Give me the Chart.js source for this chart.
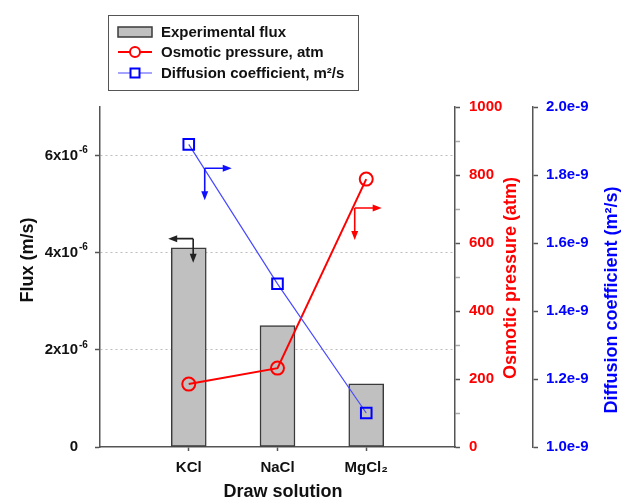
<!DOCTYPE html>
<html>
<head>
<meta charset="utf-8">
<script src="https://cdn.jsdelivr.net/npm/chart.js@4.4.1/dist/chart.umd.min.js"></script>
<style>
    html, body { margin: 0; padding: 0; background: #fff; }
    #wrap { position: relative; width: 624px; height: 501px; }
</style>
</head>
<body>
<div id="wrap"><canvas id="fluxChart"></canvas></div>
<script>
// values
const categories = ['KCl', 'NaCl', 'MgCl₂'];
const fluxValues = [4.1e-6, 2.5e-6, 1.3e-6];            // m/s
const osmoticPressure = [185, 232, 788];                // atm
const diffusionCoeff = [1.89e-9, 1.48e-9, 1.10e-9];     // m²/s

const fluxTicks = [0, 2e-6, 4e-6, 6e-6];
const fluxTickLabels = ['0', '2x10', '4x10', '6x10'];
const fluxTickExponents = ['', '-6', '-6', '-6'];
const pressureTicks = [0, 200, 400, 600, 800, 1000];
const pressureMinorTicks = [100, 300, 500, 700, 900];
const diffusionTicks = [1.0e-9, 1.2e-9, 1.4e-9, 1.6e-9, 1.8e-9, 2.0e-9];
const diffusionTickLabels = ['1.0e-9', '1.2e-9', '1.4e-9', '1.6e-9', '1.8e-9', '2.0e-9'];

// L-shaped "read this axis" arrows: anchor in data units of the given axis
const axisArrows = [
    { axis: 'y', x: 0.05, y: 4.29e-6, dir: -1, len: 25, down: 24, color: '#222' },
    { axis: 'yD', x: 0.18, y: 1.82e-9, dir: 1, len: 27, down: 32, color: '#1010ff' },
    { axis: 'yP', x: 1.87, y: 703, dir: 1, len: 27, down: 32, color: '#ff0000' },
];

const FONT = "'Liberation Sans', Arial, sans-serif";
const AXIS_COLOR = '#555';
const RED = '#ff0000';
const BLUE = '#0000ff';

Chart.defaults.font.family = FONT;

function arrowHead(ctx, x, y, dx, dy) {
    // dx,dy unit direction of the arrow
    const L = 9, W = 3.5;
    ctx.beginPath();
    ctx.moveTo(x, y);
    ctx.lineTo(x - dx * L - dy * W, y - dy * L + dx * W);
    ctx.lineTo(x - dx * L + dy * W, y - dy * L - dx * W);
    ctx.closePath();
    ctx.fill();
}

function drawAxisArrows(chart) {
    const ctx = chart.ctx;
    const xs = chart.scales.x;
    ctx.save();
    axisArrows.forEach((a) => {
        const px = xs.getPixelForValue(a.x);
        const py = chart.scales[a.axis].getPixelForValue(a.y);
        ctx.strokeStyle = a.color;
        ctx.fillStyle = a.color;
        ctx.lineWidth = 1.6;
        ctx.beginPath();
        ctx.moveTo(px, py);
        ctx.lineTo(px + a.dir * (a.len - 4), py);
        ctx.moveTo(px, py);
        ctx.lineTo(px, py + a.down - 4);
        ctx.stroke();
        arrowHead(ctx, px + a.dir * a.len, py, a.dir, 0);
        arrowHead(ctx, px, py + a.down, 0, 1);
    });
    ctx.restore();
}

// superscript exponent after the "Nx10" flux tick labels
function drawFluxExponents(chart) {
    const ctx = chart.ctx;
    const ys = chart.scales.y;
    ctx.save();
    ctx.font = `bold 10px ${FONT}`;
    ctx.fillStyle = '#111';
    ctx.textAlign = 'left';
    ctx.textBaseline = 'middle';
    fluxTicks.forEach((v, i) => {
        if (!fluxTickExponents[i]) return;
        ctx.fillText(fluxTickExponents[i], 79, ys.getPixelForValue(v) - 5);
    });
    ctx.restore();
}

function drawLegendBox(chart) {
    const ctx = chart.ctx;
    const box = { x: 108, y: 15, w: 250, h: 75 };
    const rows = [32, 52, 73];
    ctx.save();
    ctx.strokeStyle = AXIS_COLOR;
    ctx.lineWidth = 1;
    ctx.strokeRect(box.x + 0.5, box.y + 0.5, box.w, box.h);
    ctx.font = `bold 15px ${FONT}`;
    ctx.textBaseline = 'middle';
    chart.data.datasets.forEach((ds, i) => {
        const y = rows[i];
        const x0 = 118, x1 = 152, cx = 135;
        if (ds.type === 'line') {
            ctx.strokeStyle = ds.borderColor;
            ctx.lineWidth = ds.borderWidth;
            ctx.beginPath();
            ctx.moveTo(x0, y);
            ctx.lineTo(x1, y);
            ctx.stroke();
            ctx.strokeStyle = ds.pointBorderColor;
            ctx.lineWidth = 2;
            ctx.fillStyle = '#fff';
            if (ds.pointStyle === 'circle') {
                ctx.beginPath();
                ctx.arc(cx, y, 5, 0, Math.PI * 2);
                ctx.fill();
                ctx.stroke();
            } else {
                ctx.fillRect(cx - 4.5, y - 4.5, 9, 9);
                ctx.strokeRect(cx - 4.5, y - 4.5, 9, 9);
            }
        } else {
            ctx.fillStyle = ds.backgroundColor;
            ctx.fillRect(x0, y - 5, x1 - x0, 10);
            ctx.strokeStyle = ds.borderColor;
            ctx.lineWidth = 1.5;
            ctx.strokeRect(x0, y - 5, x1 - x0, 10);
        }
        ctx.fillStyle = '#111';
        ctx.fillText(ds.label, 161, y + 1);
    });
    ctx.restore();
}

function drawTitle(ctx, text, x, y, rot, color) {
    ctx.save();
    ctx.translate(x, y);
    ctx.rotate(rot);
    ctx.font = `bold 18px ${FONT}`;
    ctx.fillStyle = color;
    ctx.textAlign = 'center';
    ctx.textBaseline = 'middle';
    ctx.fillText(text, 0, 0);
    ctx.restore();
}

function drawAxisTitles(chart) {
    const ctx = chart.ctx;
    drawTitle(ctx, 'Flux (m/s)', 28, 260, -Math.PI / 2, '#111');
    drawTitle(ctx, 'Draw solution', 283, 492, 0, '#111');
    drawTitle(ctx, 'Osmotic pressure (atm)', 511, 278, -Math.PI / 2, RED);
    drawTitle(ctx, 'Diffusion coefficient (m²/s)', 612, 300, -Math.PI / 2, BLUE);
}

const overlayPlugin = {
    id: 'overlay',
    afterDatasetsDraw(chart) {
        drawAxisArrows(chart);
    },
    afterDraw(chart) {
        drawFluxExponents(chart);
        drawLegendBox(chart);
        drawAxisTitles(chart);
    },
};

const tickFont = { size: 15, weight: 'bold' };

new Chart(document.getElementById('fluxChart').getContext('2d'), {
    type: 'bar',
    data: {
        datasets: [
            {
                type: 'bar',
                label: 'Experimental flux',
                data: categories.map((c, i) => ({ x: i, y: fluxValues[i] })),
                yAxisID: 'y',
                backgroundColor: '#c0c0c0',
                borderColor: '#3a3a3a',
                borderWidth: 1.5,
                borderSkipped: false,
                barThickness: 35,
                order: 3,
            },
            {
                type: 'line',
                label: 'Osmotic pressure, atm',
                data: categories.map((c, i) => ({ x: i, y: osmoticPressure[i] })),
                yAxisID: 'yP',
                borderColor: RED,
                borderWidth: 2,
                pointStyle: 'circle',
                pointRadius: 6.5,
                pointBorderWidth: 2,
                pointBorderColor: RED,
                pointBackgroundColor: 'rgba(0,0,0,0)',
                tension: 0,
                order: 2,
            },
            {
                type: 'line',
                label: 'Diffusion coefficient, m²/s',
                data: categories.map((c, i) => ({ x: i, y: diffusionCoeff[i] })),
                yAxisID: 'yD',
                borderColor: '#4a4aff',
                borderWidth: 1.2,
                pointStyle: 'rect',
                pointRadius: 7.5,
                pointBorderWidth: 2,
                pointBorderColor: BLUE,
                pointBackgroundColor: 'rgba(0,0,0,0)',
                tension: 0,
                order: 1,
            },
        ],
    },
    options: {
        responsive: true,
        maintainAspectRatio: false,
        animation: false,
        layout: { padding: { top: 107, left: 0, right: 0, bottom: 0 } },
        plugins: {
            legend: { display: false },
            tooltip: { enabled: false },
        },
        scales: {
            x: {
                type: 'linear',
                min: -1,
                max: 3,
                offset: false,
                afterFit: (s) => { s.height = 54; },
                afterBuildTicks: (s) => { s.ticks = categories.map((c, i) => ({ value: i })); },
                ticks: {
                    autoSkip: false,
                    maxRotation: 0,
                    padding: 8,
                    color: '#111',
                    font: tickFont,
                    callback: (v) => categories[v],
                },
                grid: {
                    offset: false,
                    drawOnChartArea: false,
                    tickLength: 4,
                    tickColor: AXIS_COLOR,
                    tickWidth: 1.5,
                },
                border: { color: AXIS_COLOR, width: 1.5 },
            },
            y: {
                position: 'left',
                min: 0,
                max: 7e-6,
                afterFit: (s) => { s.width = 100; },
                afterBuildTicks: (s) => { s.ticks = fluxTicks.map((v) => ({ value: v })); },
                ticks: {
                    autoSkip: false,
                    padding: 17,
                    color: '#111',
                    font: tickFont,
                    callback: (v, i) => fluxTickLabels[i],
                },
                grid: {
                    color: (c) => (c.tick && c.tick.value === 0 ? 'rgba(0,0,0,0)' : '#bdbdbd'),
                    lineWidth: 1,
                    tickLength: 5,
                    tickColor: AXIS_COLOR,
                    tickWidth: 1.5,
                    tickBorderDash: [],
                },
                border: { color: AXIS_COLOR, width: 1.5, dash: [2, 3] },
            },
            yP: {
                position: 'right',
                weight: 0,
                min: 0,
                max: 1000,
                afterFit: (s) => { s.width = 78; },
                afterBuildTicks: (s) => {
                    s.ticks = pressureTicks.concat(pressureMinorTicks)
                        .sort((a, b) => a - b)
                        .map((v) => ({ value: v }));
                },
                ticks: {
                    autoSkip: false,
                    padding: 9,
                    color: RED,
                    font: tickFont,
                    callback: (v) => (pressureTicks.includes(v) ? String(v) : ''),
                },
                grid: {
                    drawOnChartArea: false,
                    tickLength: 5,
                    tickWidth: 1.5,
                    tickColor: (c) => (c.tick && pressureMinorTicks.includes(c.tick.value) ? '#aaa' : AXIS_COLOR),
                },
                border: { color: AXIS_COLOR, width: 1.5 },
            },
            yD: {
                position: 'right',
                weight: 1,
                min: 1.0e-9,
                max: 2.0e-9,
                afterFit: (s) => { s.width = 91; },
                afterBuildTicks: (s) => { s.ticks = diffusionTicks.map((v) => ({ value: v })); },
                ticks: {
                    autoSkip: false,
                    padding: 8,
                    color: BLUE,
                    font: tickFont,
                    callback: (v, i) => diffusionTickLabels[i],
                },
                grid: { drawOnChartArea: false, tickLength: 5, tickWidth: 1.5, tickColor: AXIS_COLOR },
                border: { color: AXIS_COLOR, width: 1.5 },
            },
        },
    },
    plugins: [overlayPlugin],
});
</script>
</body>
</html>
